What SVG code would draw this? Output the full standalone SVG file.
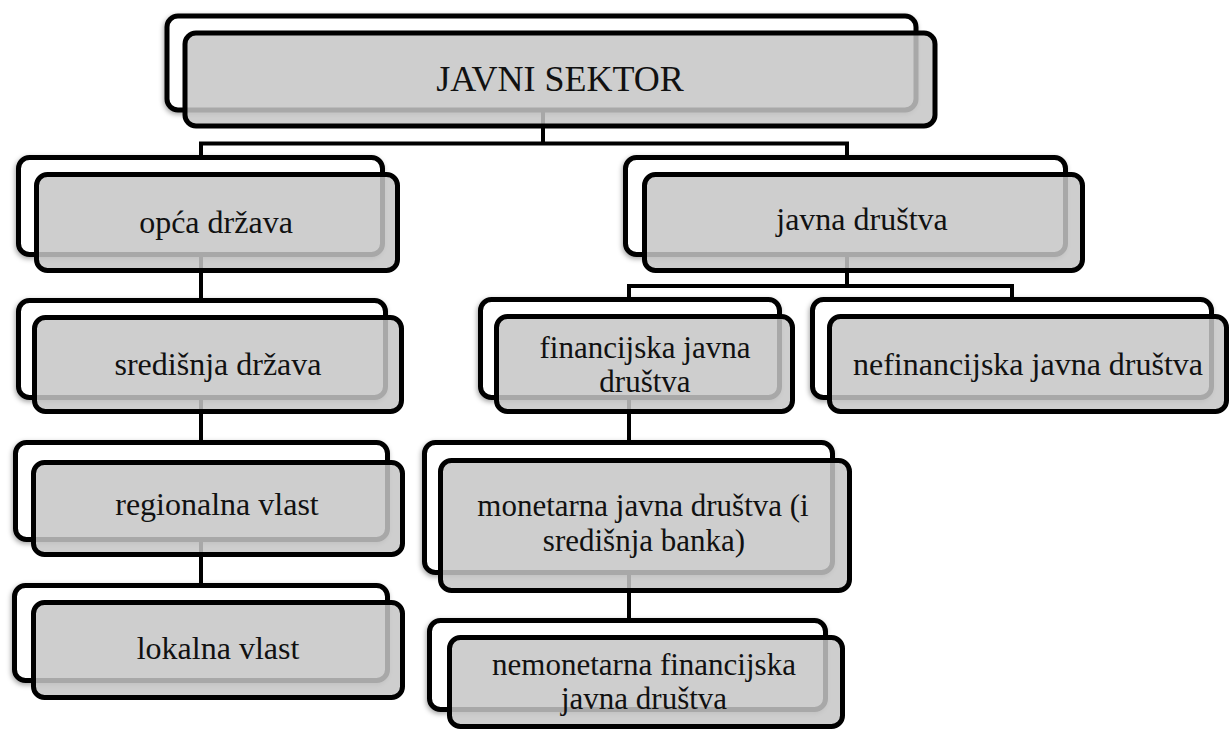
<svg xmlns="http://www.w3.org/2000/svg" width="1231" height="731" viewBox="0 0 1231 731">
<defs>
<filter id="sh" x="-5%" y="-10%" width="110%" height="125%">
<feDropShadow dx="-1" dy="2" stdDeviation="2.5" flood-color="#000" flood-opacity="0.35"/>
</filter>
</defs>
<style>
.back{fill:#fff;stroke:#000;stroke-width:5;filter:url(#sh)}
.front{fill:#c6c6c6;fill-opacity:0.85;stroke:#000;stroke-width:5}
.conn{fill:none;stroke:#000;stroke-width:4}
.t{font-family:'Liberation Serif',Tinos,'Times New Roman',Times,'Noto Serif','DejaVu Serif',FreeSerif,serif;font-size:32px;fill:#111;text-anchor:middle}
.big{font-size:36px}
.two{font-size:31px}
</style>
<rect width="1231" height="731" fill="#fff"/>
<g id="connectors">
<path class="conn" d="M201,157 V143.5 H847 V157 M543,110 V143.5"/>
<path class="conn" d="M201,255 V300"/>
<path class="conn" d="M201,398 V442"/>
<path class="conn" d="M201,540 V585"/>
<path class="conn" d="M847,255 V286 M629,299 V286 H1012 V299"/>
<path class="conn" d="M629,398 V442"/>
<path class="conn" d="M629,573 V620"/>
</g>
<g id="n-javni-sektor">
<rect class="back" x="167" y="16" width="749" height="94" rx="11"/>
<rect class="front" x="185" y="33" width="750" height="93" rx="11"/>
<text class="t big" x="560" y="91">JAVNI SEKTOR</text>
</g>
<g id="n-opca-drzava">
<rect class="back" x="18.5" y="157.5" width="364" height="97" rx="11"/>
<rect class="front" x="36.5" y="174.5" width="361" height="96" rx="11"/>
<text class="t" x="216" y="233">opća država</text>
</g>
<g id="n-javna-drustva">
<rect class="back" x="625.5" y="157.5" width="440" height="97" rx="11"/>
<rect class="front" x="644.5" y="174.5" width="438" height="96" rx="11"/>
<text class="t" x="862" y="230">javna društva</text>
</g>
<g id="n-sredisnja-drzava">
<rect class="back" x="18.5" y="300.5" width="367" height="97" rx="11"/>
<rect class="front" x="34.5" y="317.5" width="367" height="94" rx="11"/>
<text class="t" x="218" y="375">središnja država</text>
</g>
<g id="n-financijska">
<rect class="back" x="480.5" y="299.5" width="299" height="98" rx="11"/>
<rect class="front" x="496.5" y="316.5" width="296" height="95" rx="11"/>
<text class="t two" x="645" y="358">financijska javna</text>
<text class="t two" x="645" y="392">društva</text>
</g>
<g id="n-nefinancijska">
<rect class="back" x="812.5" y="299.5" width="399" height="98" rx="11"/>
<rect class="front" x="829.5" y="316.5" width="397" height="95" rx="11"/>
<text class="t" x="1028" y="375">nefinancijska javna društva</text>
</g>
<g id="n-regionalna">
<rect class="back" x="15.5" y="442.5" width="372" height="97" rx="11"/>
<rect class="front" x="33.5" y="462.5" width="369" height="92" rx="11"/>
<text class="t" x="217" y="515">regionalna vlast</text>
</g>
<g id="n-lokalna">
<rect class="back" x="14.5" y="585.5" width="373" height="95" rx="11"/>
<rect class="front" x="33.5" y="602.5" width="369" height="95" rx="11"/>
<text class="t" x="218" y="659">lokalna vlast</text>
</g>
<g id="n-monetarna">
<rect class="back" x="424.5" y="442.5" width="408" height="130" rx="11"/>
<rect class="front" x="440.5" y="460.5" width="409" height="130" rx="11"/>
<text class="t two" x="643" y="516">monetarna javna društva (i</text>
<text class="t two" x="644" y="551">središnja banka)</text>
</g>
<g id="n-nemonetarna">
<rect class="back" x="429.5" y="620.5" width="396" height="89" rx="11"/>
<rect class="front" x="449.5" y="637.5" width="393" height="89" rx="11"/>
<text class="t two" x="644" y="675">nemonetarna financijska</text>
<text class="t two" x="644" y="709">javna društva</text>
</g>
</svg>
